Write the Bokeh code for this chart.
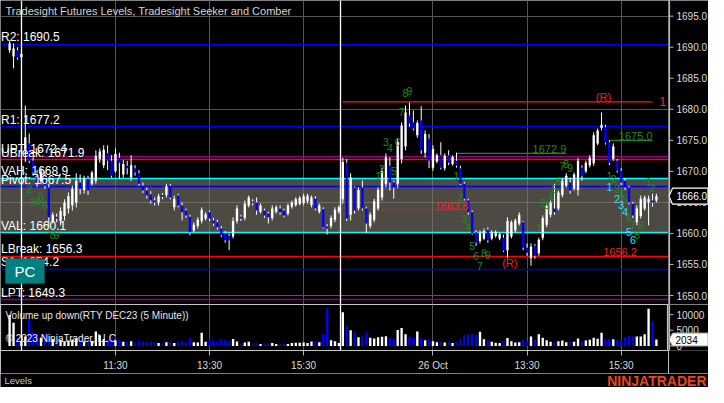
import numpy as np
from bokeh.plotting import figure
from bokeh.layouts import column, row
from bokeh.models import (Range1d, FixedTicker, Grid, Label,
                          BoxAnnotation, ColumnDataSource)
from bokeh.core.properties import value
from bokeh.embed import file_html
from bokeh.resources import INLINE

# ============================ DATA ============================
FIRST_BAR = -4   # bar index of first visible bar (day-1 9:35 bar = 0)

pre_open  = [1689.5, 1688.5, 1689.5, 1688.4]
pre_high  = [1691.1, 1690.6, 1690.0, 1689.1]
pre_low   = [1689.1, 1686.6, 1688.0, 1688.2]
pre_close = [1690.6, 1689.8, 1688.3, 1688.9]
pre_vol   = [9900, 7400, 2500, 1500]

d1_open = [1673.5, 1674.5, 1671.7, 1669.7, 1668.4, 1669.3, 1667.4, 1662.0, 1662.7, 1662.0,
           1662.8, 1664.0, 1664.5, 1665.0, 1668.2, 1667.0, 1668.8, 1668.0, 1668.5, 1672.0,
           1671.0, 1672.9, 1671.7, 1670.0, 1672.2, 1669.5, 1670.9, 1669.0, 1670.5, 1669.7,
           1667.7, 1666.9, 1666.3, 1665.3, 1665.0, 1666.2, 1666.2, 1667.7, 1664.2, 1666.1,
           1664.5, 1663.7, 1662.7, 1660.5, 1661.2, 1662.0, 1662.4, 1663.4, 1662.1, 1661.8,
           1660.8, 1660.0, 1659.6, 1659.5, 1662.0, 1662.7, 1662.5, 1664.5, 1665.1, 1665.0,
           1663.5, 1663.7, 1663.2, 1662.5, 1663.5, 1664.0, 1663.7, 1663.2, 1664.3, 1664.6,
           1664.8, 1664.9, 1665.2, 1664.6, 1665.6, 1663.5, 1663.9, 1661.1, 1661.2, 1662.2,
           1663.5]
d1_high = [1680.6, 1676.1, 1672.3, 1670.2, 1670.6, 1670.0, 1668.0, 1663.4, 1663.2, 1664.2,
           1665.5, 1666.6, 1667.7, 1669.7, 1669.5, 1669.3, 1669.3, 1670.1, 1673.4, 1673.7,
           1674.2, 1674.2, 1672.6, 1673.7, 1673.0, 1671.8, 1671.7, 1672.6, 1671.0, 1670.2,
           1668.2, 1667.4, 1666.8, 1665.8, 1666.4, 1666.5, 1668.0, 1668.0, 1666.1, 1666.4,
           1665.0, 1664.0, 1663.0, 1661.8, 1662.6, 1664.2, 1663.4, 1663.7, 1662.5, 1662.2,
           1661.2, 1660.4, 1660.0, 1662.6, 1664.5, 1663.0, 1665.3, 1666.1, 1665.5, 1665.8,
           1664.8, 1664.0, 1663.5, 1664.5, 1664.5, 1664.5, 1664.0, 1664.8, 1665.3, 1665.8,
           1666.0, 1666.4, 1666.4, 1666.1, 1666.0, 1664.8, 1664.2, 1661.5, 1662.9, 1664.2,
           1664.5]
d1_low = [1671.5, 1671.3, 1669.3, 1667.5, 1668.0, 1667.2, 1661.0, 1661.6, 1661.8, 1661.3,
          1662.1, 1663.2, 1663.7, 1664.2, 1666.3, 1666.4, 1666.2, 1667.7, 1668.0, 1671.4,
          1670.5, 1670.2, 1669.0, 1669.8, 1668.8, 1669.0, 1669.5, 1668.5, 1669.3, 1667.7,
          1666.5, 1665.6, 1664.8, 1664.5, 1664.5, 1665.5, 1665.8, 1665.5, 1663.7, 1664.2,
          1662.1, 1662.5, 1659.7, 1660.2, 1660.8, 1661.6, 1662.1, 1662.0, 1661.2, 1660.6,
          1659.4, 1658.5, 1657.3, 1659.2, 1661.6, 1662.0, 1662.1, 1664.2, 1664.5, 1663.0,
          1663.2, 1662.5, 1661.6, 1662.1, 1663.2, 1663.0, 1662.6, 1662.9, 1664.0, 1664.3,
          1664.5, 1664.5, 1664.8, 1664.2, 1663.7, 1663.2, 1660.8, 1659.8, 1660.8, 1661.8,
          1663.2]
d1_close = [1675.5, 1671.7, 1669.8, 1668.2, 1670.0, 1667.7, 1662.6, 1663.0, 1662.4, 1663.6,
            1665.0, 1666.0, 1667.2, 1668.5, 1667.2, 1668.8, 1666.9, 1669.8, 1672.5, 1673.2,
            1673.5, 1671.7, 1669.3, 1672.8, 1671.4, 1671.2, 1670.5, 1671.0, 1669.8, 1668.0,
            1666.9, 1666.1, 1665.3, 1665.0, 1666.0, 1665.9, 1667.6, 1665.8, 1665.6, 1664.5,
            1663.4, 1662.9, 1660.2, 1661.4, 1662.2, 1663.8, 1663.1, 1662.4, 1661.6, 1661.0,
            1659.7, 1658.9, 1658.9, 1662.0, 1664.0, 1662.4, 1664.8, 1665.8, 1664.9, 1663.7,
            1664.5, 1662.9, 1662.6, 1664.0, 1664.2, 1663.4, 1662.9, 1664.5, 1665.0, 1665.5,
            1665.7, 1666.0, 1666.1, 1665.8, 1664.0, 1664.5, 1661.0, 1660.8, 1662.5, 1663.8,
            1664.2]
d1_vol = [3000, 8500, 4350, 3700, 2600, 3700, 3300, 2200, 1800, 2000,
          1500, 1700, 2000, 2400, 1800, 1500, 2000, 1600, 4600, 3400,
          2200, 1900, 2800, 1700, 1900, 1300, 1200, 1500, 1000, 1700,
          1300, 1200, 1400, 1100, 900, 800, 1200, 1400, 900, 1300,
          1600, 1100, 2500, 1200, 1100, 4200, 1300, 1900, 1700, 1400,
          2100, 1800, 1500, 2200, 1400, 600, 1100, 1300, 700, 900,
          600, 700, 800, 900, 600, 700, 800, 600, 900, 1000,
          1000, 1100, 900, 1400, 1500, 1200, 3700, 12000, 1800, 1500,
          900]

d2_open = [1665.5, 1671.4, 1663.0, 1667.4, 1664.0, 1667.4, 1664.0, 1661.2, 1662.2, 1664.0,
           1665.8, 1668.0, 1670.9, 1668.2, 1668.0, 1672.0, 1674.0, 1679.0, 1677.9, 1675.8,
           1678.2, 1673.0, 1675.3, 1670.6, 1671.6, 1672.6, 1670.5, 1672.6, 1671.2, 1671.7,
           1670.5, 1668.0, 1665.3, 1663.4, 1660.2, 1658.8, 1659.2, 1660.6, 1659.2, 1659.6,
           1659.2, 1659.3, 1657.3, 1659.5, 1660.5, 1661.6, 1661.8, 1657.7, 1656.0, 1658.0,
           1656.8, 1659.3, 1661.4, 1663.0, 1664.0, 1664.0, 1666.2, 1667.7, 1668.2, 1667.2,
           1667.0, 1670.6, 1670.0, 1671.0, 1671.3, 1674.5, 1677.0, 1677.1, 1674.7, 1672.0,
           1671.7, 1670.1, 1668.5, 1667.4, 1664.8, 1661.8, 1662.8, 1664.0, 1665.0, 1665.3,
           1665.3]
d2_high = [1672.2, 1672.0, 1669.7, 1667.6, 1667.4, 1668.5, 1664.3, 1663.4, 1665.6, 1667.4,
           1670.6, 1672.9, 1672.3, 1668.5, 1675.3, 1677.9, 1680.6, 1681.1, 1679.8, 1678.2,
           1680.5, 1676.6, 1676.0, 1674.2, 1672.9, 1674.7, 1672.9, 1673.4, 1672.6, 1673.0,
           1670.9, 1668.3, 1665.6, 1663.7, 1660.5, 1660.5, 1660.8, 1661.0, 1660.5, 1660.5,
           1660.2, 1659.8, 1662.6, 1662.1, 1662.4, 1663.4, 1662.0, 1658.4, 1658.4, 1658.3,
           1659.3, 1662.9, 1664.8, 1665.3, 1668.0, 1666.9, 1668.9, 1669.7, 1669.0, 1669.8,
           1672.2, 1671.0, 1671.7, 1672.6, 1676.3, 1676.9, 1679.5, 1677.5, 1675.0, 1674.5,
           1672.0, 1670.5, 1668.9, 1667.7, 1665.1, 1664.5, 1666.1, 1666.1, 1666.1, 1666.4,
           1666.4]
d2_low = [1664.8, 1662.0, 1662.1, 1663.2, 1663.7, 1663.7, 1660.0, 1660.8, 1661.8, 1663.7,
          1665.3, 1667.4, 1666.9, 1665.6, 1667.3, 1671.3, 1673.4, 1677.2, 1676.6, 1675.4,
          1672.8, 1672.2, 1670.5, 1670.1, 1671.3, 1670.3, 1670.1, 1671.0, 1670.9, 1670.6,
          1667.8, 1665.3, 1663.0, 1659.8, 1658.0, 1658.4, 1658.9, 1658.5, 1658.9, 1659.3,
          1658.9, 1657.0, 1656.0, 1659.2, 1660.2, 1661.3, 1657.3, 1656.4, 1654.8, 1655.9,
          1656.4, 1658.9, 1661.0, 1662.6, 1663.0, 1663.7, 1665.8, 1667.4, 1666.4, 1666.9,
          1666.1, 1668.5, 1669.7, 1670.6, 1670.9, 1674.2, 1676.6, 1674.3, 1671.0, 1671.7,
          1669.8, 1667.8, 1667.0, 1664.7, 1662.5, 1661.3, 1662.4, 1663.7, 1661.3, 1664.3,
          1665.0]
d2_close = [1671.5, 1662.4, 1669.0, 1663.7, 1667.0, 1664.0, 1661.6, 1663.0, 1665.2, 1667.0,
            1670.0, 1672.3, 1668.2, 1667.4, 1674.8, 1677.4, 1679.5, 1677.7, 1676.9, 1677.8,
            1673.4, 1676.0, 1671.7, 1673.6, 1672.6, 1670.6, 1672.5, 1671.4, 1672.3, 1670.9,
            1668.0, 1665.6, 1663.4, 1660.0, 1658.5, 1660.1, 1660.4, 1658.9, 1660.2, 1660.2,
            1659.9, 1657.2, 1662.0, 1661.8, 1662.1, 1663.0, 1657.7, 1656.9, 1657.9, 1656.4,
            1659.0, 1662.5, 1664.4, 1665.0, 1663.4, 1666.6, 1668.5, 1669.3, 1666.9, 1669.5,
            1671.7, 1669.3, 1671.4, 1672.2, 1675.8, 1676.6, 1677.5, 1674.6, 1671.4, 1674.0,
            1670.1, 1668.2, 1667.4, 1665.0, 1662.9, 1664.0, 1665.6, 1665.8, 1665.6, 1665.0,
            1666.0]
d2_vol = [10800, 6400, 5000, 4350, 2800, 3000, 4350, 2600, 2400, 2800,
          2900, 3100, 2600, 2200, 5100, 5700, 3700, 3000, 2500, 4600,
          2500, 1800, 2300, 1500, 1200, 1400, 1100, 1300, 900, 1300,
          2300, 3500, 3600, 3800, 3500, 4500, 2100, 1700, 1300, 1000,
          900, 1600, 2500, 1500, 1100, 1200, 2000, 1500, 3000, 1900,
          3700, 2600, 1800, 1300, 1200, 1500, 1700, 1200, 1400, 1300,
          2400, 1500, 1700, 2000, 2600, 2300, 4200, 2100, 2100, 2100,
          2000, 1600, 2800, 3250, 3250, 3000, 3000, 3700, 11860, 7970,
          2034]

session_breaks = [-0.9, 80.3]
time_tick_bars = [23, 47, 71, 104, 128, 152]
time_tick_labels = ["11:30", "13:30", "15:30", "26 Oct", "13:30", "15:30"]
price_ticks = [1650, 1655, 1660, 1665, 1670, 1675, 1680, 1685, 1690, 1695]
price_grid = [1650, 1665, 1680, 1695]
volume_ticks = [0, 5000, 10000]

level_names = ["R2", "R1", "UPT", "UBreak", "VAH", "Pivot", "VAL", "LBreak", "S1", "LPT"]
level_values = [1690.5, 1677.2, 1672.4, 1671.9, 1668.9, 1667.5, 1660.1, 1656.3, 1654.2, 1649.3]
level_colors = ["#0000ff", "#0000ff", "#8b008b", "#ff0000", "#00ffff", "#0000ff",
                "#00ffff", "#ff0000", "#0000c8", "#8b008b"]

GREEN = "#1f8a1f"
CYAN = "#22e4ff"
RED = "#ff1a1a"
seek_text  = ["1", "2", "3", "4", "5", "6", "7", "8", "9",
              "1", "2", "3", "4", "5", "6", "7", "8", "9",
              "1", "2", "3", "4", "5", "6", "7", "8", "9",
              "1", "2", "3", "4", "5", "6", "7", "8", "9",
              "1", "2", "3", "4", "5", "6", "7", "8", "9",
              "1", "2", "3", "4", "5", "6",
              "1", "2"]
seek_bar   = [0, 1, 2, 3, 4, 5, 6, 7, 8,
              90, 91, 92, 93, 94, 95, 96, 97, 98,
              110, 111, 112, 113, 114, 115, 116, 117, 118,
              131, 132, 133, 134, 135, 136, 137, 138, 139,
              149, 150, 151, 152, 153, 154, 155, 156, 157,
              149, 151, 152, 153, 154, 155,
              159, 160]
seek_price = [1669.3, 1667.1, 1665.1, 1665.0, 1665.8, 1664.5, 1660.6, 1659.7, 1659.7,
              1669.3, 1670.3, 1674.7, 1673.8, 1670.0, 1674.7, 1679.6, 1682.6, 1683.0,
              1669.2, 1665.8, 1662.4, 1661.1, 1657.9, 1656.4, 1654.7, 1656.8, 1656.6,
              1660.9, 1664.9, 1664.5, 1665.8, 1667.2, 1668.4, 1670.8, 1671.2, 1670.6,
              1669.3, 1668.8, 1667.2, 1666.4, 1665.6, 1662.5, 1661.3, 1659.8, 1661.3,
              1667.4, 1665.6, 1664.5, 1663.5, 1660.3, 1658.9,
              1668.3, 1667.3]
seek_color = [GREEN] * 45 + [CYAN] * 6 + [GREEN] * 2

# target / signal lines
tgt_x0 = [81, 110, 149]
tgt_x1 = [160, 138, 160]
tgt_y = [1681.2, 1672.9, 1675.0]
tgt_color = [RED, GREEN, GREEN]
dash_x0, dash_x1, dash_y = [91], [113], [1663.8]

note_text = ["1672.9", "1675.0", "1663.8", "1656.2"]
note_bar = [138, 160, 113, 156]
note_price = [1672.9, 1675.0, 1663.8, 1656.4]
note_color = [GREEN, GREEN, RED, RED]

rev_text = ["(R)", "(R)", "1"]
rev_bar = [147.5, 123.6, 162.6]
rev_price = [1681.9, 1655.2, 1681.2]
rev_size = ["11px", "11px", "13px"]

# ============================ LAYOUT HELPERS ============================
W = 708
FW = 668            # main frame width (same pixel scale as the original)
RB = W - FW         # right scale column width
H1 = 304            # price pane height
H2F = 46            # volume pane frame height
AXB = 23            # time-axis border
FOOT = 387 - H1 - H2F - AXB


def kx(px):   # reference x-pixel -> bar-index coordinate (decoration placement)
    return (px - 24.8) / 3.92


def py(px):   # reference y-pixel -> price coordinate (decoration placement)
    return 1650 + (295 - px) / 6.207


def vy(px):   # reference y-pixel -> volume coordinate
    return (351.7 - px) / 18.0 * 5000


FONT = "Liberation Sans"
GRID = "#555555"
AXIS = "#b8b8b8"
TICKTXT = "#dcdcdc"
BLUE = "#0000ff"

opens = pre_open + d1_open + d2_open
highs = pre_high + d1_high + d2_high
lows = pre_low + d1_low + d2_low
closes = pre_close + d1_close + d2_close
volumes = pre_vol + d1_vol + d2_vol
n = len(opens)
bars = np.arange(FIRST_BAR, FIRST_BAR + n)
colors = ["white" if c >= o else BLUE for o, c in zip(opens, closes)]
src = ColumnDataSource(dict(
    x=bars, o=opens, h=highs, l=lows, c=closes,
    top=np.maximum(opens, closes), bot=np.minimum(opens, closes),
    color=colors, vol=volumes))

x_range = Range1d(kx(0), kx(668))
price_range = Range1d(py(304), py(0))
vol_range = Range1d(vy(357), vy(304))
VOL_PX = H2F / (vol_range.end - vol_range.start)   # px per volume unit


def base_fig(**kw):
    f = figure(output_backend="svg", toolbar_location=None,
               background_fill_color="black", border_fill_color="black",
               min_border_left=0, min_border_right=0, min_border_top=0,
               min_border_bottom=0, **kw)
    for g in f.grid:
        g.visible = False
    return f


# ============================ PRICE PANE ============================
p1 = base_fig(width=FW, height=H1, x_range=x_range, y_range=price_range,
              x_axis_location=None, y_axis_location=None, outline_line_color=None)
p1.add_layout(Grid(dimension=1, ticker=FixedTicker(ticks=price_grid), grid_line_color=GRID))
p1.add_layout(Grid(dimension=0, ticker=FixedTicker(ticks=time_tick_bars), grid_line_color=GRID))

# value area shading
p1.hstrip(y0=[level_values[6]], y1=[level_values[4]], fill_color="#807b71",
          fill_alpha=0.6, line_alpha=0)
# level lines
p1.hspan(y=level_values, line_color=level_colors, line_width=1.3)
# session breaks
p1.vspan(x=session_breaks, line_color="white", line_width=1.3)
# target lines
p1.segment(x0=tgt_x0, x1=tgt_x1, y0=tgt_y, y1=tgt_y, line_color=tgt_color, line_width=1.3)
p1.segment(x0=dash_x0, x1=dash_x1, y0=dash_y, y1=dash_y, line_color=RED,
           line_width=1, line_dash="2 2")

# candles
p1.segment(x0="x", y0="l", x1="x", y1="h", source=src, line_color="white", line_width=1)
p1.vbar(x="x", width=0.6, top="top", bottom="bot", fill_color="color",
        line_color=None, source=src)

# seeker digits and notes
p1.text(x=seek_bar, y=seek_price, text=seek_text, text_color=seek_color,
        text_font=value(FONT), text_font_size="10.5px",
        text_align="center", text_baseline="middle")
p1.text(x=note_bar, y=note_price, text=note_text, text_color=note_color,
        text_font=value(FONT), text_font_size="11px",
        text_align="right", text_baseline="bottom")
p1.text(x=rev_bar, y=rev_price, text=rev_text, text_color=RED,
        text_font=value(FONT), text_font_size=rev_size,
        text_align="center", text_baseline="middle")

# level labels
for name, val in zip(level_names, level_values):
    p1.add_layout(Label(x=0.5, x_units="screen", y=val, y_units="data",
                        text=f"{name}: {val:.1f}", text_color="white",
                        text_font=FONT, text_font_size="12px",
                        text_baseline="bottom"))

# title
p1.add_layout(Label(x=5, x_units="screen", y=H1 - 10, y_units="screen",
                    text="Tradesight Futures Levels, Tradesight Seeker and Comber",
                    text_color="#d4d4d4", text_font=FONT, text_font_size="11px",
                    text_baseline="middle"))

# PC button
p1.add_layout(BoxAnnotation(left=kx(5), right=kx(44), top=py(258), bottom=py(283),
                            fill_color="#008080", fill_alpha=1.0,
                            line_color="#5a5a5a", line_width=1.5))
p1.add_layout(Label(x=kx(24.5), y=py(270.5), text="PC", text_color="white",
                    text_font=FONT, text_font_size="15px",
                    text_align="center", text_baseline="middle"))

# ----- price scale column -----
p1r = base_fig(width=RB, height=H1, x_range=Range1d(0, RB), y_range=price_range,
               x_axis_location=None, y_axis_location=None, outline_line_color=None)
p1r.vspan(x=[0.6], line_color=AXIS, line_width=1.2)
p1r.segment(x0=0, x1=5, y0=price_ticks, y1=price_ticks, line_color=AXIS, line_width=1)
p1r.text(x=8, y=price_ticks, text=[f"{t:.1f}" for t in price_ticks],
         text_color=TICKTXT, text_font=value(FONT), text_font_size="10px",
         text_align="left", text_baseline="middle")
last_price = closes[-1]
hh = 8 / 6.207
p1r.patch(x=[0.5, 4, RB - 0.5, RB - 0.5, 4],
          y=[last_price, last_price + hh, last_price + hh, last_price - hh, last_price - hh],
          fill_color="black", line_color="white", line_width=1.2)
p1r.text(x=[8], y=[last_price], text=[f"{last_price:.1f}"], text_color="white",
         text_font=value(FONT), text_font_size="10px",
         text_align="left", text_baseline="middle")

# ============================ VOLUME PANE ============================
p2 = base_fig(width=FW, height=H2F + AXB, x_range=x_range, y_range=vol_range,
              y_axis_location=None, outline_line_color="#c4c4c4", outline_line_width=1.2)
p2.min_border_bottom = AXB
p2.add_layout(Grid(dimension=0, ticker=FixedTicker(ticks=time_tick_bars), grid_line_color=GRID))

xa = p2.xaxis[0]
xa.ticker = FixedTicker(ticks=time_tick_bars)
xa.major_label_overrides = {b: l for b, l in zip(time_tick_bars, time_tick_labels)}
xa.axis_line_color = "#c4c4c4"
xa.major_tick_line_color = AXIS
xa.major_tick_out = 5
xa.major_tick_in = 0
xa.minor_tick_line_color = None
xa.major_label_text_color = TICKTXT
xa.major_label_text_font_size = "10px"
xa.major_label_text_font = FONT
xa.major_label_standoff = 4

p2.vspan(x=session_breaks, line_color="white", line_width=1.3)
p2.vbar(x="x", width=0.6, top="vol", bottom=0, fill_color="color",
        line_color=None, source=src)

p2.add_layout(Label(x=5, x_units="screen", y=H2F - 10.5, y_units="screen",
                    text="Volume up down(RTY DEC23 (5 Minute))", text_color="#e6e6e6",
                    text_font=FONT, text_font_size="10px", text_baseline="middle"))
p2.add_layout(Label(x=5, x_units="screen", y=H2F - 34, y_units="screen",
                    text="\u00a9 2023 NinjaTrader, LLC", text_color="#f0f0f0",
                    text_font=FONT, text_font_size="10px", text_baseline="middle"))

# ----- volume scale column -----
p2r = base_fig(width=RB, height=H2F + AXB, x_range=Range1d(0, RB), y_range=vol_range,
               x_axis_location=None, y_axis_location=None, outline_line_color=None)
p2r.min_border_bottom = AXB
p2r.vspan(x=[0.6], line_color=AXIS, line_width=1.2)
p2r.segment(x0=0, x1=5, y0=volume_ticks, y1=volume_ticks, line_color=AXIS, line_width=1)
p2r.text(x=8, y=volume_ticks, text=[str(t) for t in volume_ticks],
         text_color=TICKTXT, text_font=value(FONT), text_font_size="10px",
         text_align="left", text_baseline="middle")
last_vol = volumes[-1]
vh = 6.5 / VOL_PX
p2r.patch(x=[0.5, 4, RB - 0.5, RB - 0.5, 4],
          y=[last_vol, last_vol + vh, last_vol + vh, last_vol - vh, last_vol - vh],
          fill_color="white", line_color="#9a9a9a", line_width=1)
p2r.text(x=[7], y=[last_vol], text=[str(last_vol)], text_color="black",
         text_font=value(FONT), text_font_size="10px",
         text_align="left", text_baseline="middle")

# ============================ FOOTER ============================
p3 = base_fig(width=W, height=FOOT, x_range=Range1d(0, W), y_range=Range1d(0, FOOT),
              x_axis_location=None, y_axis_location=None, outline_line_color=None)
p3.text(x=[4], y=[FOOT / 2], text=["Levels"], text_color="#c8c8c8",
        text_font=value(FONT), text_font_size="9.5px",
        text_align="left", text_baseline="middle")
p3.text(x=[W - 2], y=[FOOT / 2], text=["NINJATRADER"], text_color="#e8461e",
        text_font=value(FONT), text_font_size="14px", text_font_style="bold",
        text_align="right", text_baseline="middle")

layout = column(row(p1, p1r, spacing=0), row(p2, p2r, spacing=0), p3, spacing=0)
open("out.html", "w").write(file_html(layout, INLINE))
